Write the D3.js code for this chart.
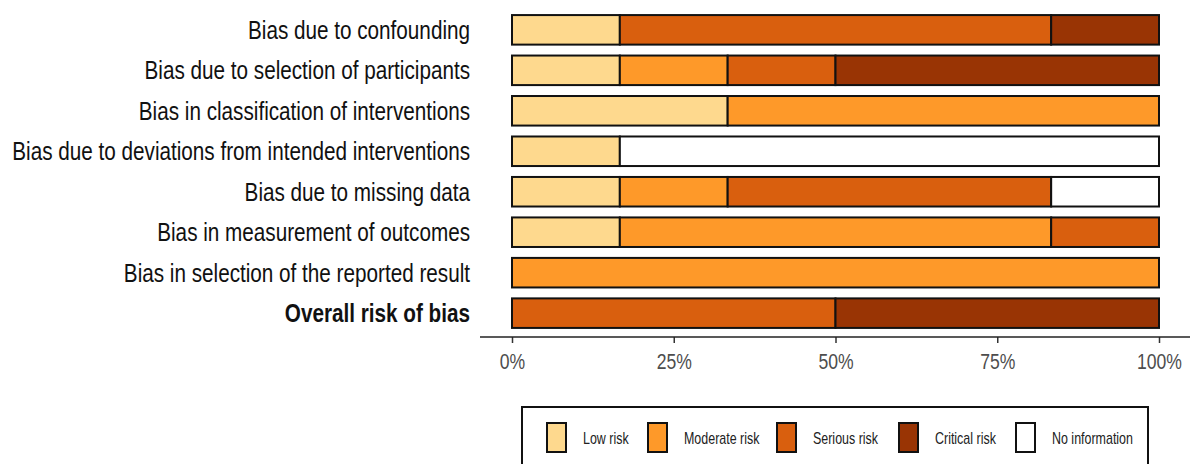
<!DOCTYPE html>
<html>
<head>
<meta charset="utf-8">
<script src="https://cdn.jsdelivr.net/npm/d3@7"></script>
<style>
  body { margin: 0; background: #fff; }
  text { font-family: "Liberation Sans", Arial, sans-serif; }
</style>
</head>
<body>
<div id="chart"></div>
<script>
// domains, top to bottom
var domains = [
    'Bias due to confounding',
    'Bias due to selection of participants',
    'Bias in classification of interventions',
    'Bias due to deviations from intended interventions',
    'Bias due to missing data',
    'Bias in measurement of outcomes',
    'Bias in selection of the reported result',
    'Overall risk of bias'
];
var judgements = ['Low risk', 'Moderate risk', 'Serious risk', 'Critical risk', 'No information'];
var colours = ['#FED98E', '#FE9929', '#D95F0E', '#993404', '#FFFFFF'];

// number of studies (out of 6) per judgement, one array per judgement
var lowRisk      = [1, 1, 2, 1, 1, 1, 0, 0];
var moderateRisk = [0, 1, 4, 0, 1, 4, 6, 0];
var seriousRisk  = [4, 1, 0, 0, 3, 1, 0, 3];
var criticalRisk = [1, 3, 0, 0, 0, 0, 0, 3];
var noInfo       = [0, 0, 0, 5, 1, 0, 0, 0];
var tickValues = [0, 0.25, 0.5, 0.75, 1];

var series = [lowRisk, moderateRisk, seriousRisk, criticalRisk, noInfo];

var width = 1197;
var height = 464;

var svg = d3.select('#chart')
    .append('svg')
    .attr('width', width)
    .attr('height', height);

var x = d3.scaleLinear().domain([0, 1]).range([512, 1159]);
var y = d3.scaleBand().domain(domains).range([9, 334]).paddingInner(0.27).paddingOuter(0.15);

// the original font is condensed, so squeeze text horizontally
// so that a reference string comes out at the width seen in the picture
function squeeze(sel, refIndex, targetWidth) {
    var k = targetWidth / sel.nodes()[refIndex].getComputedTextLength();
    sel.each(function() {
        var t = d3.select(this);
        var tx = +t.attr('x') || 0;
        var ty = +t.attr('y') || 0;
        var base = t.attr('transform') || '';
        t.attr('x', 0).attr('y', 0)
            .attr('transform', base + ' translate(' + tx + ',' + ty + ') scale(' + k + ',1)');
    });
}

// stacked proportions
var rows = domains.map(function(d, i) {
    var row = { domain: d };
    var total = d3.sum(series, function(s) { return s[i]; });
    judgements.forEach(function(j, k) { row[j] = series[k][i] / total; });
    return row;
});
var stacked = d3.stack().keys(judgements)(rows);

var colour = d3.scaleOrdinal().domain(judgements).range(colours);

svg.append('g')
    .selectAll('g')
    .data(stacked)
    .enter()
    .append('g')
    .attr('fill', function(d) { return colour(d.key); })
    .selectAll('rect')
    .data(function(d) { return d.filter(function(p) { return p[1] - p[0] > 0; }); })
    .enter()
    .append('rect')
    .attr('x', function(d) { return x(d[0]); })
    .attr('width', function(d) { return x(d[1]) - x(d[0]); })
    .attr('y', function(d) { return y(d.data.domain); })
    .attr('height', y.bandwidth())
    .attr('stroke', '#111')
    .attr('stroke-width', 2);

// domain labels
var labels = svg.append('g')
    .selectAll('text')
    .data(domains)
    .enter()
    .append('text')
    .attr('x', 470)
    .attr('y', function(d) { return y(d) + y.bandwidth() / 2 + 9; })
    .attr('text-anchor', 'end')
    .attr('font-size', 25)
    .attr('font-weight', function(d, i) { return i === domains.length - 1 ? 'bold' : 'normal'; })
    .attr('fill', '#111')
    .text(function(d) { return d; });
squeeze(labels, 3, 458);

// x axis
var xAxis = d3.axisBottom(x)
    .tickValues(tickValues)
    .tickFormat(d3.format('.0%'))
    .tickSize(6)
    .tickSizeOuter(0);

var axisG = svg.append('g')
    .attr('transform', 'translate(0,337)')
    .call(xAxis);
axisG.select('.domain').remove();
axisG.append('line')
    .attr('x1', 480).attr('x2', 1190)
    .attr('stroke', '#222').attr('stroke-width', 1.5);
axisG.selectAll('.tick line').attr('stroke', '#333').attr('stroke-width', 1.5);
var tickText = axisG.selectAll('.tick text')
    .attr('font-size', 22)
    .attr('fill', '#4d4d4d')
    .attr('dy', null)
    .attr('y', 32)
    .style('font-family', '"Liberation Sans", Arial, sans-serif');
squeeze(tickText, 4, 45);

// legend
var legend = svg.append('g');
legend.append('rect')
    .attr('x', 522).attr('y', 407)
    .attr('width', 626).attr('height', 70)
    .attr('fill', 'none').attr('stroke', '#111').attr('stroke-width', 2);

var legendX = [547, 648, 777, 899, 1016];
var items = legend.selectAll('g.item')
    .data(judgements)
    .enter()
    .append('g')
    .attr('class', 'item')
    .attr('transform', function(d, i) { return 'translate(' + legendX[i] + ',423)'; });
items.append('rect')
    .attr('width', 19).attr('height', 29)
    .attr('fill', function(d) { return colour(d); })
    .attr('stroke', '#111').attr('stroke-width', 2);
var legendText = items.append('text')
    .attr('x', 36).attr('y', 21)
    .attr('font-size', 16)
    .attr('fill', '#222')
    .text(function(d) { return d; });
squeeze(legendText, 4, 81);
</script>
</body>
</html>
